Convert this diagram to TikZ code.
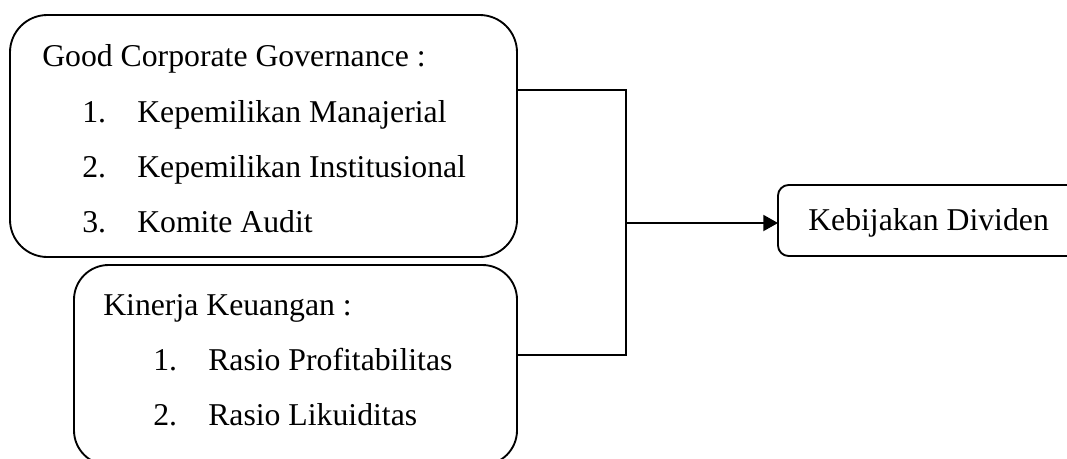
\documentclass[tikz,border=0pt]{standalone}
\usepackage{fontspec}
\setmainfont{Liberation Serif}
\usetikzlibrary{arrows.meta}
\tikzset{
  box/.style={draw, line width=1.4pt, inner sep=0pt, outer sep=0pt},
  txt/.style={anchor=base west, inner sep=0pt, font=\fontsize{23.8}{28}\selectfont},
  conn/.style={line width=1.4pt},
}
\newcommand{\itm}[2]{\makebox[41.25pt][l]{#1}#2}
\begin{document}
\begin{tikzpicture}[x=0.75pt,y=-0.75pt]
\clip (0,0) rectangle (1067,458);
\fill[white] (0,0) rectangle (1067,458);
% boxes
\node[box, rounded corners=28pt, minimum width=380.25pt, minimum height=181.5pt] (gcg) at (263.5,136) {};
\node[box, rounded corners=26pt, minimum width=332.25pt, minimum height=150pt] (kk) at (295.5,365) {};
\node[box, rounded corners=8pt, minimum width=226.5pt, minimum height=53.25pt] (div) at (929,220.5) {};
% texts
\node[txt] (t0) at (42,66) {Good Corporate Governance :};
\node[txt] (t1) at (82,122) {\itm{1.}{Kepemilikan Manajerial}};
\node[txt] (t2) at (82,177) {\itm{2.}{Kepemilikan Institusional}};
\node[txt] (t3) at (82,232) {\itm{3.}{Komite Audit}};
\node[txt] (k0) at (103,315) {Kinerja Keuangan :};
\node[txt] (k1) at (153,370) {\itm{1.}{Rasio Profitabilitas}};
\node[txt] (k2) at (153,425) {\itm{2.}{Rasio Likuiditas}};
\node[txt] (d0) at (808,230) {Kebijakan Dividen};
% connectors
\coordinate (j1) at (626,90);
\coordinate (j2) at (626,355);
\coordinate (jm) at (626,223);
\draw[conn] (gcg.east |- j1) -- (j1) -- (j2) -- (kk.east |- j2);
\draw[conn, -{Triangle[length=11pt,width=12pt]}] (jm) -- (div.west |- jm);
\end{tikzpicture}
\end{document}
